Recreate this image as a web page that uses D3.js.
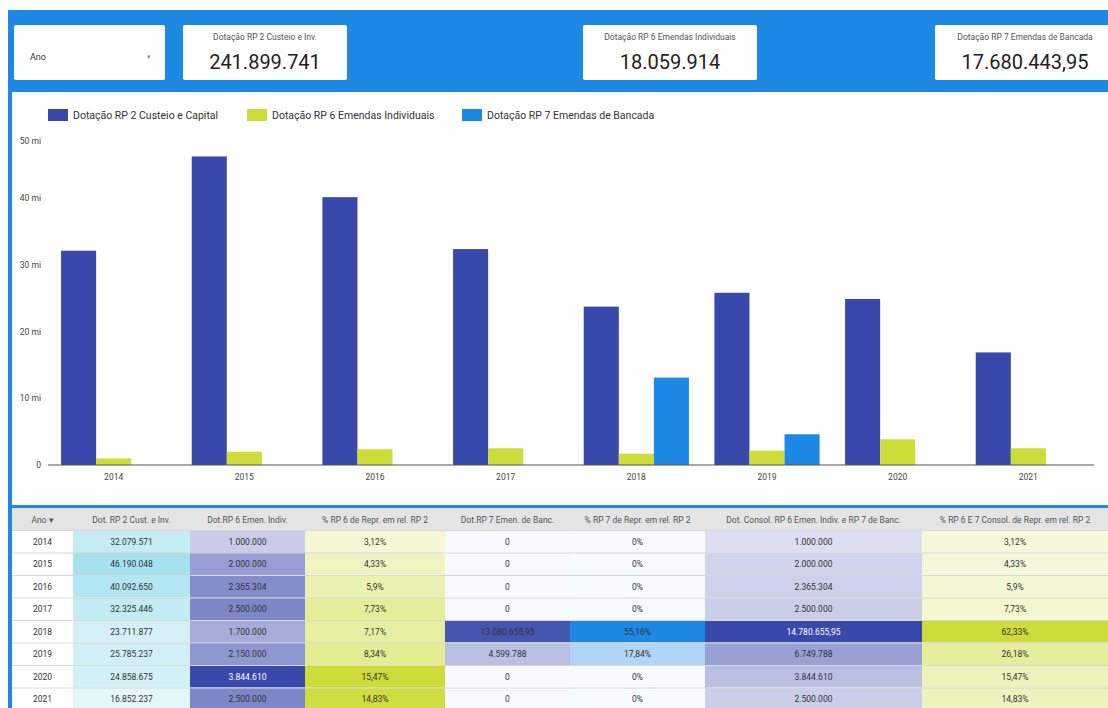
<!DOCTYPE html>
<html>
<head>
<meta charset="utf-8">
<script src="https://cdn.jsdelivr.net/npm/d3@7"></script>
<style>
  body { margin: 0; background: #fff; }
  svg { display: block; font-family: Roboto, "Noto Sans", sans-serif; }
</style>
</head>
<body>
<div id="chart"></div>
<script>
// data
const anos = ["2014", "2015", "2016", "2017", "2018", "2019", "2020", "2021"];
const rp2 = [32079571, 46190048, 40092650, 32325446, 23711877, 25785237, 24858675, 16852237];
const rp6 = [1000000, 2000000, 2365304, 2500000, 1700000, 2150000, 3844610, 2500000];
const rp7 = [0, 0, 0, 0, 13080655.95, 4599788, 0, 0];
const consol = [1000000, 2000000, 2365304, 2500000, 14780655.95, 6749788, 3844610, 2500000];
const pct6 = [3.12, 4.33, 5.9, 7.73, 7.17, 8.34, 15.47, 14.83];
const pct7 = [0, 0, 0, 0, 55.16, 17.84, 0, 0];
const pctConsol = [3.12, 4.33, 5.9, 7.73, 62.33, 26.18, 15.47, 14.83];

const seriesNames = ["Dotação RP 2 Custeio e Capital", "Dotação RP 6 Emendas Individuais", "Dotação RP 7 Emendas de Bancada"];
const yTicks = [0, 10e6, 20e6, 30e6, 40e6, 50e6];

const kpiTitles = ["Dotação RP 2 Custeio e Inv.", "Dotação RP 6 Emendas Individuais", "Dotação RP 7 Emendas de Bancada"];
const kpiValues = ["241.899.741", "18.059.914", "17.680.443,95"];

const colHeaders = ["Ano ▾", "Dot. RP 2 Cust. e Inv.", "Dot.RP 6 Emen. Indiv.", "% RP 6 de Repr. em rel. RP 2",
  "Dot.RP 7 Emen. de Banc.", "% RP 7 de Repr. em rel. RP 2", "Dot. Consol. RP 6 Emen. Indiv. e RP 7 de Banc.",
  "% RP 6 E 7 Consol. de Repr. em rel. RP 2"];

const W = 1108, H = 708;
const blue = "#1e88e5", indigo = "#3949ab", lime = "#cddc39";

const br = d3.formatLocale({ decimal: ",", thousands: ".", grouping: [3], currency: ["R$", ""] });
const fmtInt = br.format(",.0f"), fmtDec = br.format(",.2f");
const fmtNum = v => Number.isInteger(v) ? fmtInt(v) : fmtDec(v);
const fmtPct = v => br.format(",.2~f")(v) + "%";

const svg = d3.select("#chart").append("svg")
    .attr("width", W)
    .attr("height", H);

svg.append("rect").attr("width", W).attr("height", H).attr("fill", "#fff");

// blue report background
svg.append("rect")
    .attr("x", 8).attr("y", 10)
    .attr("width", W - 8).attr("height", H - 10)
    .attr("fill", blue);

// --- header cards
const cards = [
    { x: 14, w: 151 },
    { x: 183, w: 164, t: kpiTitles[0], v: kpiValues[0] },
    { x: 583, w: 174, t: kpiTitles[1], v: kpiValues[1] },
    { x: 935, w: 180, t: kpiTitles[2], v: kpiValues[2] }
];

const cardG = svg.append("g").selectAll("g").data(cards).join("g")
    .attr("transform", d => `translate(${d.x},25)`);

cardG.append("rect")
    .attr("width", d => d.w).attr("height", 55)
    .attr("rx", 2).attr("fill", "#fff");

cardG.filter(d => d.t).append("text")
    .attr("x", d => d.w / 2).attr("y", 15)
    .attr("text-anchor", "middle")
    .attr("font-size", 8.5).attr("fill", "#555")
    .text(d => d.t);

cardG.filter(d => d.v).append("text")
    .attr("x", d => d.w / 2).attr("y", 44)
    .attr("text-anchor", "middle")
    .attr("font-size", 20).attr("fill", "#222")
    .text(d => d.v);

// dropdown
const dd = cardG.filter(d => !d.t);
dd.append("text").attr("x", 16).attr("y", 35)
    .attr("font-size", 9).attr("fill", "#333").text("Ano");
dd.append("text").attr("x", 133).attr("y", 34)
    .attr("font-size", 7).attr("fill", "#888").text("▾");

// --- chart panel
svg.append("rect")
    .attr("x", 12).attr("y", 92)
    .attr("width", W - 12).attr("height", 413)
    .attr("fill", "#fff");

const x = d3.scaleBand().domain(anos).range([48, 1094]).paddingInner(0.195).paddingOuter(0.1);
const xs = d3.scaleBand().domain([0, 1, 2]).range([0, x.bandwidth()]);
const y = d3.scaleLinear().domain([0, 50e6]).range([465, 131]);
const colors = [indigo, lime, blue];

const series = [rp2, rp6, rp7];
const groups = svg.append("g").selectAll("g").data(anos).join("g")
    .attr("transform", d => `translate(${x(d)},0)`);

groups.selectAll("rect")
    .data((d, i) => series.map((s, k) => ({ k, v: s[i] })).filter(e => e.v > 0))
    .join("rect")
    .attr("x", e => xs(e.k))
    .attr("y", e => y(e.v))
    .attr("width", xs.bandwidth())
    .attr("height", e => y(0) - y(e.v))
    .attr("fill", e => colors[e.k]);

// y axis (labels only)
const yAxis = svg.append("g")
    .attr("transform", "translate(41,0)")
    .call(d3.axisLeft(y).tickValues(yTicks).tickSize(0).tickPadding(0)
        .tickFormat(v => v === 0 ? "0" : (v / 1e6) + " mi"));
yAxis.select(".domain").remove();
yAxis.selectAll("text").attr("font-size", 8.5).attr("fill", "#444")
    .attr("font-family", "Roboto, sans-serif");
yAxis.selectAll(".tick").filter(v => v === 50e6).select("text").attr("dy", "1.5em");

// x axis
const xAxis = svg.append("g")
    .attr("transform", "translate(0,465)")
    .call(d3.axisBottom(x).tickSize(0).tickPadding(9));
xAxis.select(".domain").attr("stroke", "#555").attr("d", "M48,0H1094");
xAxis.selectAll("text").attr("font-size", 8.5).attr("fill", "#444")
    .attr("font-family", "Roboto, sans-serif");

// legend
const legendX = [48, 247, 462];
const leg = svg.append("g").selectAll("g").data(seriesNames).join("g")
    .attr("transform", (d, i) => `translate(${legendX[i]},109)`);
leg.append("rect").attr("width", 20).attr("height", 12)
    .attr("fill", (d, i) => colors[i]);
leg.append("text").attr("x", 25).attr("y", 10)
    .attr("font-size", 10.5).attr("fill", "#333").text(d => d);

// --- table
const colEdges = [12, 73, 190, 305, 445, 570, 705, 922, W];
const tableTop = 508, headH = 22, rowH = 22.5;

svg.append("rect").attr("x", 12).attr("y", tableTop)
    .attr("width", W - 12).attr("height", H - tableTop).attr("fill", "#fff");
svg.append("rect").attr("x", 12).attr("y", tableTop)
    .attr("width", W - 12).attr("height", headH).attr("fill", "#e4e4e4");

svg.append("g").selectAll("text").data(colHeaders).join("text")
    .attr("x", (d, i) => (colEdges[i] + colEdges[i + 1]) / 2)
    .attr("y", tableTop + 14.5)
    .attr("text-anchor", "middle")
    .attr("font-size", 8.5).attr("fill", "#555")
    .text(d => d);

const heat = (vals, lo, hi, fromMin) => {
    const ext = d3.extent(vals);
    return d3.scaleLinear().domain([fromMin ? ext[0] : 0, ext[1]]).range([lo, hi]).interpolate(d3.interpolateRgb);
};

const columns = [
    { vals: anos, fmt: d => d },
    { vals: rp2, fmt: fmtNum, color: heat(rp2, "#e3f6f9", "#a5e2ee", true) },
    { vals: rp6, fmt: fmtNum, color: heat(rp6, "#c8cce9", indigo, true) },
    { vals: pct6, fmt: fmtPct, color: heat(pct6, "#f4f7d2", lime, true) },
    { vals: rp7, fmt: fmtNum, color: heat(rp7, "#f8f9fd", "#4556b0", false) },
    { vals: pct7, fmt: fmtPct, color: heat(pct7, "#f7fafe", blue, false) },
    { vals: consol, fmt: fmtNum, color: heat(consol, "#dcdff1", indigo, true) },
    { vals: pctConsol, fmt: fmtPct, color: heat(pctConsol, "#f6f8dc", lime, true) }
];

const rowsG = svg.append("g");
columns.forEach((c, ci) => {
    const x0 = colEdges[ci], w = colEdges[ci + 1] - x0;
    c.vals.forEach((v, ri) => {
        const y0 = tableTop + headH + ri * rowH;
        const fill = c.color ? c.color(v) : "#fff";
        rowsG.append("rect").attr("x", x0).attr("y", y0)
            .attr("width", w).attr("height", rowH).attr("fill", fill);
        rowsG.append("text")
            .attr("x", x0 + w / 2).attr("y", y0 + 14.5)
            .attr("text-anchor", "middle")
            .attr("font-size", 8.5)
            .attr("fill", d3.hsl(fill).l < 0.48 ? "#fff" : "#333")
            .text(c.fmt(v));
    });
});

// row separators
rowsG.selectAll("line").data(anos).join("line")
    .attr("x1", 12).attr("x2", W)
    .attr("y1", (d, i) => tableTop + headH + i * rowH + 0.5)
    .attr("y2", (d, i) => tableTop + headH + i * rowH + 0.5)
    .attr("stroke", "#d8d8d8");
</script>
</body>
</html>
